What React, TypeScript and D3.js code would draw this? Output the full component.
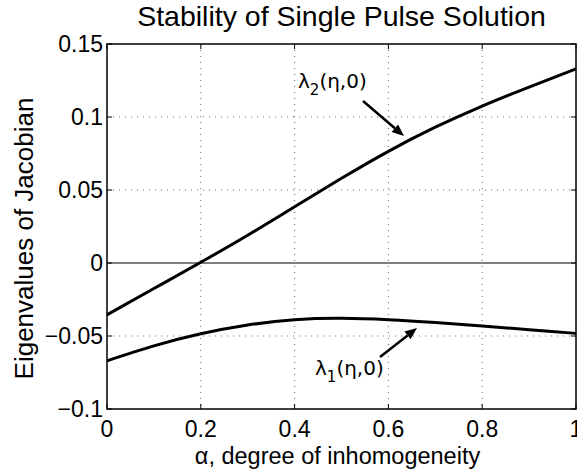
import React from "react";
import * as d3 from "d3";

const alpha = [0, 0.1, 0.2, 0.3, 0.4, 0.5, 0.6, 0.7, 0.8, 0.9, 1.0];
const lambda2 = [-0.0355, -0.0175, 0.0005, 0.019, 0.0385, 0.058, 0.0765, 0.093, 0.1075, 0.1205, 0.133];
const lambda1 = [-0.067, -0.0568, -0.0485, -0.0425, -0.0388, -0.0378, -0.0388, -0.0408, -0.0432, -0.0457, -0.0482];
const xTicks = [0, 0.2, 0.4, 0.6, 0.8, 1];
const yTicks = [-0.1, -0.05, 0, 0.05, 0.1, 0.15];
const xTickLabels = ["0", "0.2", "0.4", "0.6", "0.8", "1"];
const yTickLabels = ["\u22120.1", "\u22120.05", "0", "0.05", "0.1", "0.15"];

const W = 577, H = 469;
const L = 107, R = 576, T = 44, B = 409;
const FONT = "'Liberation Sans', Arial, Helvetica, sans-serif";

export default function App() {
  const x = d3.scaleLinear().domain([0, 1]).range([L, R]);
  const y = d3.scaleLinear().domain([-0.1, 0.15]).range([B, T]);
  const line = d3
    .line<number>()
    .x((_, i) => x(alpha[i]))
    .y((d) => y(d))
    .curve(d3.curveNatural);

  const arrow = (x1: number, y1: number, x2: number, y2: number) => {
    const ang = Math.atan2(y2 - y1, x2 - x1);
    const len = 12, hw = 5;
    const bx = x2 - len * Math.cos(ang), by = y2 - len * Math.sin(ang);
    const px = -Math.sin(ang) * hw, py = Math.cos(ang) * hw;
    return (
      <g>
        <line x1={x1} y1={y1} x2={bx} y2={by} stroke="#000" strokeWidth={2.5} />
        <polygon points={`${x2},${y2} ${bx + px},${by + py} ${bx - px},${by - py}`} fill="#000" />
      </g>
    );
  };

  return (
    <svg width={W} height={H} style={{ position: "absolute", left: 0, top: 0, background: "#fff" }} fontFamily={FONT}>
      <rect x={0} y={0} width={W} height={H} fill="#fff" />
      {xTicks.slice(1, -1).map((t) => (
        <line key={"gx" + t} x1={x(t)} x2={x(t)} y1={T} y2={B} stroke="#666" strokeWidth={1} strokeDasharray="1 5" />
      ))}
      {yTicks.slice(1, -1).filter((t) => t !== 0).map((t) => (
        <line key={"gy" + t} x1={L} x2={R} y1={y(t)} y2={y(t)} stroke="#666" strokeWidth={1} strokeDasharray="1 5" />
      ))}
      <line x1={L} x2={R} y1={y(0)} y2={y(0)} stroke="#000" strokeWidth={1} />
      {xTicks.map((t) => (
        <g key={"tx" + t}>
          <line x1={x(t)} x2={x(t)} y1={B} y2={B - 5} stroke="#000" strokeWidth={1} />
          <line x1={x(t)} x2={x(t)} y1={T} y2={T + 5} stroke="#000" strokeWidth={1} />
        </g>
      ))}
      {yTicks.map((t) => (
        <g key={"ty" + t}>
          <line x1={L} x2={L + 5} y1={y(t)} y2={y(t)} stroke="#000" strokeWidth={1} />
          <line x1={R} x2={R - 5} y1={y(t)} y2={y(t)} stroke="#000" strokeWidth={1} />
        </g>
      ))}
      <path d={line(lambda2) || ""} fill="none" stroke="#000" strokeWidth={3} />
      <path d={line(lambda1) || ""} fill="none" stroke="#000" strokeWidth={3} />
      <rect x={L} y={T} width={R - L} height={B - T} fill="none" stroke="#000" strokeWidth={1.5} />
      {xTicks.map((t, i) => (
        <text key={"lx" + t} x={x(t)} y={437} fontSize={23} textAnchor="middle" fill="#000">
          {xTickLabels[i]}
        </text>
      ))}
      {yTicks.map((t, i) => (
        <text key={"ly" + t} x={L - 4} y={y(t) + 8} fontSize={23} textAnchor="end" fill="#000">
          {yTickLabels[i]}
        </text>
      ))}
      <text x={341.5} y={26} fontSize={28.5} textAnchor="middle" fill="#000">
        Stability of Single Pulse Solution
      </text>
      <text x={(L + R) / 2 - 4} y={464} fontSize={23.5} textAnchor="middle" fill="#000">
        α, degree of inhomogeneity
      </text>
      <text transform={`translate(33,238.5) rotate(-90)`} fontSize={26} textAnchor="middle" fill="#000">
        Eigenvalues of Jacobian
      </text>
      <text x={298} y={88} fontSize={20} fill="#000" fontFamily="'DejaVu Sans', sans-serif">
        λ<tspan fontSize={15} dy={7}>2</tspan><tspan dy={-7}>(η,0)</tspan>
      </text>
      {arrow(363, 101, 404, 136)}
      <text x={315} y={375} fontSize={20} fill="#000" fontFamily="'DejaVu Sans', sans-serif">
        λ<tspan fontSize={15} dy={7}>1</tspan><tspan dy={-7}>(η,0)</tspan>
      </text>
      {arrow(380, 357, 417, 328)}
    </svg>
  );
}
